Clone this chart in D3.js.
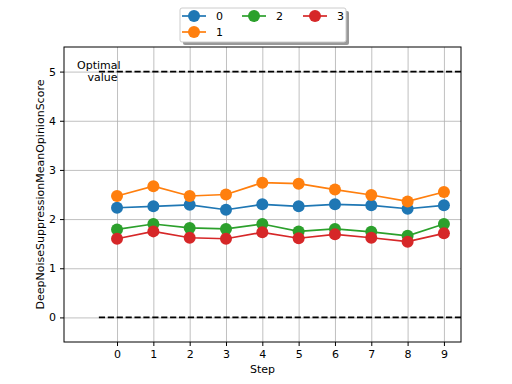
<!DOCTYPE html>
<html>
<head>
<meta charset="utf-8">
<script src="https://cdn.jsdelivr.net/npm/d3@7"></script>
<style>
  body { margin: 0; background: #fff; }
  svg text { font-family: "DejaVu Sans", sans-serif; }
</style>
</head>
<body>
<div id="chart"></div>
<script>
var steps = [0, 1, 2, 3, 4, 5, 6, 7, 8, 9];
var seriesNames = ["0", "1", "2", "3"];
var series0 = [2.23, 2.26, 2.29, 2.19, 2.30, 2.26, 2.30, 2.28, 2.21, 2.28];
var series1 = [2.47, 2.67, 2.47, 2.50, 2.74, 2.72, 2.60, 2.49, 2.36, 2.55];
var series2 = [1.79, 1.90, 1.82, 1.80, 1.90, 1.75, 1.80, 1.74, 1.66, 1.90];
var series3 = [1.60, 1.75, 1.62, 1.60, 1.73, 1.61, 1.69, 1.62, 1.54, 1.71];
var colors = ["#1f77b4", "#ff7f0e", "#2ca02c", "#d62728"];
var yTicks = [0, 1, 2, 3, 4, 5];
var optimalValue = 5;
var baselineValue = 0;

var allSeries = [series0, series1, series2, series3];

var W = 512, H = 384;
var margin = {top: 47, right: 51, bottom: 42, left: 64},
    width = W - margin.left - margin.right,
    height = H - margin.top - margin.bottom;

var x = d3.scaleLinear().domain([-1.46, 9.47]).range([0, width]);
var y = d3.scaleLinear().domain([-0.5, 5.5]).range([height, 0]);

var svg = d3.select("#chart").append("svg")
    .attr("width", W)
    .attr("height", H)
    .append("g")
    .attr("transform", "translate(" + margin.left + "," + margin.top + ")");

svg.append("clipPath").attr("id", "clip")
    .append("rect").attr("width", width).attr("height", height);

// grid
svg.append("g")
    .attr("transform", "translate(0," + height + ")")
    .call(d3.axisBottom(x).tickValues(steps).tickSize(-height).tickFormat(""))
    .call(function(g) {
        g.select(".domain").remove();
        g.selectAll("line").attr("stroke", "#b0b0b0").attr("stroke-width", 0.8);
    });

svg.append("g")
    .call(d3.axisLeft(y).tickValues(yTicks).tickSize(-width).tickFormat(""))
    .call(function(g) {
        g.select(".domain").remove();
        g.selectAll("line").attr("stroke", "#b0b0b0").attr("stroke-width", 0.8);
    });

// reference lines
var plot = svg.append("g").attr("clip-path", "url(#clip)");
[optimalValue, baselineValue].forEach(function(v) {
    plot.append("line")
        .attr("x1", x(-0.5)).attr("x2", x(9.5))
        .attr("y1", y(v)).attr("y2", y(v))
        .attr("stroke", "#000")
        .attr("stroke-width", 1.7)
        .attr("stroke-dasharray", "6.2,2.7");
});

svg.append("text")
    .attr("x", x(-0.5))
    .attr("y", y(optimalValue) - 3)
    .attr("text-anchor", "middle")
    .attr("font-size", "11px")
    .text("Optimal");
svg.append("text")
    .attr("x", x(-0.4))
    .attr("y", y(optimalValue) + 9)
    .attr("text-anchor", "middle")
    .attr("font-size", "11px")
    .text("value");

// series
var valueline = d3.line()
    .x(function(d, i) { return x(steps[i]); })
    .y(function(d) { return y(d); });

allSeries.forEach(function(s, k) {
    plot.append("path")
        .datum(s)
        .attr("fill", "none")
        .attr("stroke", colors[k])
        .attr("stroke-width", 1.7)
        .attr("d", valueline);
    plot.selectAll(".pt" + k)
        .data(s)
        .enter().append("circle")
        .attr("cx", function(d, i) { return x(steps[i]); })
        .attr("cy", function(d) { return y(d); })
        .attr("r", 6)
        .attr("fill", colors[k]);
});

// axes
svg.append("g")
    .attr("transform", "translate(0," + height + ")")
    .call(d3.axisBottom(x).tickValues(steps).tickSize(4).tickPadding(4).tickFormat(d3.format("d")))
    .call(function(g) {
        g.select(".domain").remove();
        g.selectAll("text").attr("font-size", "11px").attr("font-family", "DejaVu Sans").attr("fill", "#000");
    });

svg.append("g")
    .call(d3.axisLeft(y).tickValues(yTicks).tickSize(4).tickPadding(4).tickFormat(d3.format("d")))
    .call(function(g) {
        g.select(".domain").remove();
        g.selectAll("text").attr("font-size", "11px").attr("font-family", "DejaVu Sans").attr("fill", "#000");
    });

svg.append("rect")
    .attr("width", width).attr("height", height)
    .attr("fill", "none").attr("stroke", "#000").attr("stroke-width", 1);

svg.append("text")
    .attr("x", width / 2)
    .attr("y", height + 31)
    .attr("text-anchor", "middle")
    .attr("font-size", "11px")
    .text("Step");

svg.append("text")
    .attr("transform", "translate(" + (-20) + "," + (height / 2) + ") rotate(-90)")
    .attr("text-anchor", "middle")
    .attr("font-size", "11px")
    .text("DeepNoiseSuppressionMeanOpinionScore");

// legend
var root = d3.select("#chart svg");
var lg = root.append("g").attr("transform", "translate(180,8)");
lg.append("rect")
    .attr("x", 3).attr("y", 3)
    .attr("width", 166).attr("height", 34)
    .attr("rx", 2)
    .attr("fill", "#999");
lg.append("rect")
    .attr("width", 166).attr("height", 34)
    .attr("rx", 2)
    .attr("fill", "#fff")
    .attr("stroke", "#ccc")
    .attr("stroke-width", 1);

var legendPos = [[2, 8], [2, 24], [62, 8], [123, 8]];
seriesNames.forEach(function(name, k) {
    var p = legendPos[k];
    var item = lg.append("g").attr("transform", "translate(" + p[0] + "," + p[1] + ")");
    item.append("line")
        .attr("x1", 0).attr("x2", 24)
        .attr("stroke", colors[k]).attr("stroke-width", 1.7);
    item.append("circle").attr("cx", 12).attr("r", 6).attr("fill", colors[k]);
    item.append("text")
        .attr("x", 34).attr("y", 4)
        .attr("font-size", "11px")
        .text(name);
});
</script>
</body>
</html>
